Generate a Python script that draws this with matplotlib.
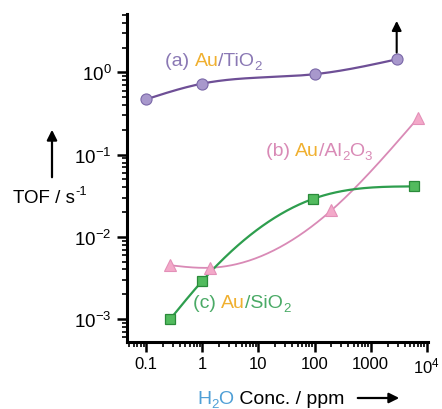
import numpy as np
import matplotlib
matplotlib.use("Agg")
import matplotlib.pyplot as plt

plt.rcParams['font.family'] = ['Liberation Sans', 'DejaVu Sans']
plt.rcParams['mathtext.fontset'] = 'custom'
plt.rcParams['mathtext.rm'] = 'Liberation Sans'
plt.rcParams['mathtext.it'] = 'Liberation Sans:italic'
plt.rcParams['mathtext.bf'] = 'Liberation Sans:bold'

# data
tio2_x = [0.1, 1.0, 100.0, 2900.0]
tio2_y = [0.47, 0.73, 0.95, 1.44]
al2o3_x = [0.27, 1.4, 200.0, 7000.0]
al2o3_y = [0.0045, 0.0042, 0.021, 0.28]
sio2_x = [0.27, 1.0, 95.0, 6000.0]
sio2_y = [0.001, 0.0029, 0.029, 0.041]

xticks = [0.1, 1, 10, 100, 1000, 10000]
xticklabels = ['0.1', '1', '10', '100', '1000', '$10^{4}$']
yticks = [1e-3, 1e-2, 1e-1, 1e0]
yticklabels = ['$10^{-3}$', '$10^{-2}$', '$10^{-1}$', '$10^{0}$']


def natural_spline(xs, ys, n=200):
    x = np.log10(np.asarray(xs, float))
    y = np.log10(np.asarray(ys, float))
    m = len(x)
    h = np.diff(x)
    A = np.zeros((m, m))
    b = np.zeros(m)
    A[0, 0] = 1
    A[-1, -1] = 1
    for i in range(1, m - 1):
        A[i, i - 1] = h[i - 1]
        A[i, i] = 2 * (h[i - 1] + h[i])
        A[i, i + 1] = h[i]
        b[i] = 6 * ((y[i + 1] - y[i]) / h[i] - (y[i] - y[i - 1]) / h[i - 1])
    M = np.linalg.solve(A, b)
    xx = np.linspace(x[0], x[-1], n)
    yy = np.empty_like(xx)
    for k, t in enumerate(xx):
        i = min(np.searchsorted(x, t, side='right') - 1, m - 2)
        i = max(i, 0)
        a = (x[i + 1] - t) / h[i]
        c = (t - x[i]) / h[i]
        yy[k] = (a * y[i] + c * y[i + 1]
                 + ((a ** 3 - a) * M[i] + (c ** 3 - c) * M[i + 1]) * h[i] ** 2 / 6)
    return 10 ** xx, 10 ** yy


W, H = 442, 410
fig = plt.figure(figsize=(W / 100, H / 100), dpi=100)
ax = fig.add_axes([127 / W, 1 - 343 / H, (428 - 127) / W, (343 - 15) / H])
ax.set_xscale('log')
ax.set_yscale('log')
ax.set_xlim(10 ** -1.34, 10 ** 4.02)
ax.set_ylim(10 ** -3.28, 10 ** 0.71)

c_ti_line = '#6e4f96'
c_al_line = '#d98ab6'
c_si_line = '#2e9e4e'

sx, sy = natural_spline(tio2_x, tio2_y)
ax.plot(sx, sy, color=c_ti_line, lw=1.6, zorder=2)
ax.plot(tio2_x, tio2_y, 'o', ms=8, mfc='#a898cc', mec='#7a68a8', mew=0.8, zorder=3)

sx, sy = natural_spline(al2o3_x, al2o3_y)
ax.plot(sx, sy, color=c_al_line, lw=1.3, zorder=2)
ax.plot(al2o3_x, al2o3_y, '^', ms=8, mfc='#f3a9c9', mec='#e390b8', mew=0.8, zorder=3)

sx, sy = natural_spline(sio2_x, sio2_y)
ax.plot(sx, sy, color=c_si_line, lw=1.6, zorder=2)
ax.plot(sio2_x, sio2_y, 's', ms=7.5, mfc='#52bb5e', mec='#2a8a3a', mew=0.9, zorder=3)

# upward arrow at last TiO2 point
ax.annotate('', xy=(tio2_x[-1], 10 ** 0.66), xytext=(tio2_x[-1], tio2_y[-1] * 1.12),
            arrowprops=dict(arrowstyle='-|>', color='black', lw=1.5,
                            mutation_scale=14), zorder=4)

for s in ['top', 'right']:
    ax.spines[s].set_visible(False)
for s in ['left', 'bottom']:
    ax.spines[s].set_linewidth(2.2)

ax.set_xticks(xticks)
ax.set_xticklabels(xticklabels)
ax.set_yticks(yticks)
ax.set_yticklabels(yticklabels)
ax.tick_params(which='major', direction='out', length=7, width=1.8, labelsize=12,
               pad=3)
ax.tick_params(axis='y', which='major', labelsize=13.5, pad=4)
ax.tick_params(which='minor', direction='out', length=3.8, width=1.2)
ax.yaxis.set_minor_locator(matplotlib.ticker.LogLocator(base=10, subs=np.arange(2, 10)))
ax.xaxis.set_minor_locator(matplotlib.ticker.LogLocator(base=10, subs=np.arange(2, 10)))
ax.yaxis.set_minor_formatter(matplotlib.ticker.NullFormatter())
ax.xaxis.set_minor_formatter(matplotlib.ticker.NullFormatter())

gold = '#f0b030'
renderer = fig.canvas.get_renderer()


def draw_pieces(pieces, x, y_base, fs=14):
    """pieces: list of (text, color); '_' prefix = subscript, '^' prefix = superscript.
    x, y_base in pixels from top-left."""
    px = x
    fs_px = fs * 100 / 72
    for t, c in pieces:
        if t.startswith('_'):
            txt = t[1:]
            size = fs * 0.68
            yb = y_base + 0.22 * fs_px
        elif t.startswith('^'):
            txt = t[1:]
            size = fs * 0.68
            yb = y_base - 0.40 * fs_px
        else:
            txt = t
            size = fs
            yb = y_base
        fig.text(px / W, 1 - yb / H, txt, fontsize=size, color=c,
                 ha='left', va='baseline')
        probe = fig.text(0, 0, txt.replace(' ', '\u00a0') + '|', fontsize=size)
        bar = fig.text(0, 0, '|', fontsize=size)
        w = (probe.get_window_extent(renderer).width
             - bar.get_window_extent(renderer).width)
        probe.remove()
        bar.remove()
        px += w


pa = '#8a78b4'
pb = '#d98ab6'
pc = '#4aaa66'
draw_pieces([('(a) ', pa), ('Au', gold), ('/TiO', pa), ('_2', pa)], 165, 66)
draw_pieces([('(b) ', pb), ('Au', gold), ('/Al', pb), ('_2', pb), ('O', pb), ('_3', pb)],
            266, 156)
draw_pieces([('(c) ', pc), ('Au', gold), ('/SiO', pc), ('_2', pc)], 193, 308)

# y label and arrow
draw_pieces([('TOF / s', 'black'), ('^-1', 'black')], 13, 203, fs=13.5)
fig.patches.append(matplotlib.patches.FancyArrowPatch(
    (52 / W, 1 - 181 / H), (52 / W, 1 - 128 / H), transform=fig.transFigure,
    arrowstyle='-|>', mutation_scale=15, lw=1.6, color='black'))

# x label and arrow
draw_pieces([('H', '#4f9fd6'), ('_2', '#4f9fd6'), ('O', '#4f9fd6'),
             (' Conc. / ppm', 'black')], 197, 404, fs=14)
fig.patches.append(matplotlib.patches.FancyArrowPatch(
    (355 / W, 1 - 399 / H), (402 / W, 1 - 399 / H), transform=fig.transFigure,
    arrowstyle='-|>', mutation_scale=15, lw=1.6, color='black'))

fig.savefig('out.png', dpi=100, facecolor='white')
